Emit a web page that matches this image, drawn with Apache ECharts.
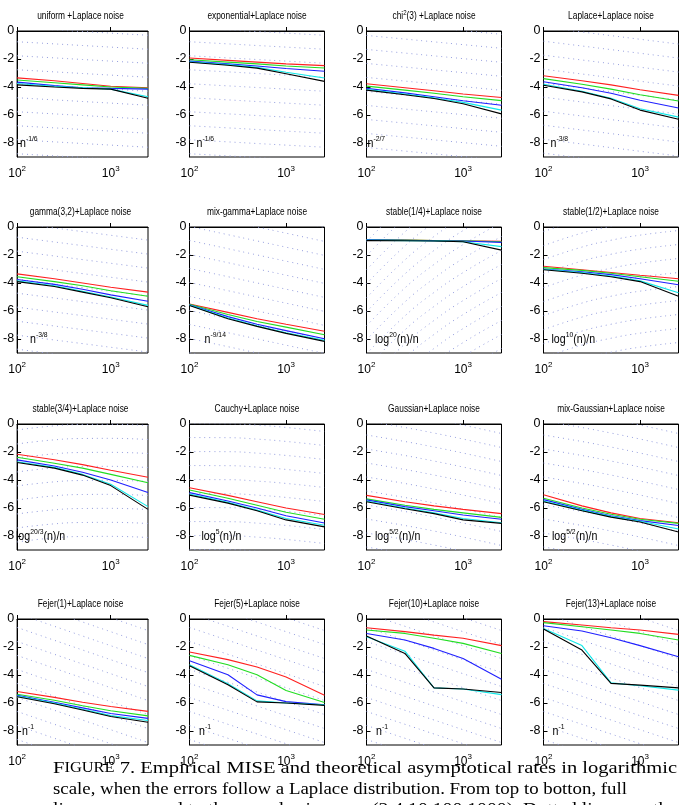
<!DOCTYPE html>
<html>
<head>
<meta charset="utf-8">
<script src="https://cdn.jsdelivr.net/npm/echarts@6/dist/echarts.min.js"></script>
<style>
html, body { margin: 0; padding: 0; background: #fff; }
#main { width: 680px; height: 805px; }
</style>
</head>
<body>
<div id="main"></div>
<script>
// sample sizes (x axis, log scale)
var sizes = [100, 250, 500, 1000, 2500];
var yTicks = [0, -2, -4, -6, -8];

var titles = [
  'uniform +Laplace noise', 'exponential+Laplace noise', 'chi{t|2}(3) +Laplace noise', 'Laplace+Laplace noise',
  'gamma(3,2)+Laplace noise', 'mix-gamma+Laplace noise', 'stable(1/4)+Laplace noise', 'stable(1/2)+Laplace noise',
  'stable(3/4)+Laplace noise', 'Cauchy+Laplace noise', 'Gaussian+Laplace noise', 'mix-Gaussian+Laplace noise',
  'Fejer(1)+Laplace noise', 'Fejer(5)+Laplace noise', 'Fejer(10)+Laplace noise', 'Fejer(13)+Laplace noise'
];

var rateLabels = [
  '{n|n}{s|-1/6}', '{n|n}{s|-1/6}', '{n|n}{s|-2/7}', '{n|n}{s|-3/8}',
  '{n|n}{s|-3/8}', '{n|n}{s|-9/14}', '{n|log}{s|20}{n|(n)/n}', '{n|log}{s|10}{n|(n)/n}',
  '{n|log}{s|20/3}{n|(n)/n}', '{n|log}{s|5}{n|(n)/n}', '{n|log}{s|5/2}{n|(n)/n}', '{n|log}{s|5/2}{n|(n)/n}',
  '{n|n}{s|-1}', '{n|n}{s|-1}', '{n|n}{s|-1}', '{n|n}{s|-1}'
];

// log MISE, one row per panel, values at the sample sizes above
var redLines = [
  [-3.35, -3.55, -3.75, -3.95, -4.05],
  [-1.93, -2.1, -2.22, -2.35, -2.47],
  [-3.77, -4.05, -4.27, -4.5, -4.75],
  [-3.2, -3.55, -3.85, -4.2, -4.6],
  [-3.35, -3.7, -4.0, -4.3, -4.65],
  [-5.5, -6.1, -6.55, -6.95, -7.45],
  [-0.9, -0.93, -0.96, -0.99, -1.02],
  [-2.8, -3.05, -3.25, -3.45, -3.7],
  [-2.16, -2.55, -2.9, -3.3, -3.8],
  [-4.55, -5.1, -5.55, -6.0, -6.47],
  [-5.1, -5.55, -5.85, -6.1, -6.4],
  [-5.06, -5.85, -6.35, -6.75, -7.05],
  [-5.18, -5.6, -5.95, -6.25, -6.6],
  [-2.36, -2.9, -3.43, -4.15, -5.44],
  [-0.62, -0.9, -1.15, -1.38, -1.9],
  [-0.19, -0.43, -0.62, -0.79, -1.1]
];
var greenLines = [
  [-3.5, -3.7, -3.85, -4.0, -4.1],
  [-2.05, -2.22, -2.35, -2.5, -2.64],
  [-3.94, -4.22, -4.45, -4.7, -4.97],
  [-3.4, -3.8, -4.15, -4.55, -5.0],
  [-3.55, -3.9, -4.2, -4.55, -4.95],
  [-5.52, -6.25, -6.75, -7.15, -7.7],
  [-0.9, -0.93, -0.96, -0.99, -1.05],
  [-2.9, -3.1, -3.3, -3.55, -3.88],
  [-2.37, -2.8, -3.15, -3.6, -4.2],
  [-4.72, -5.3, -5.8, -6.3, -6.8],
  [-5.35, -5.8, -6.1, -6.35, -6.67],
  [-5.3, -6.0, -6.45, -6.8, -7.1],
  [-5.37, -5.8, -6.2, -6.55, -6.92],
  [-2.6, -3.27, -3.98, -5.1, -5.97],
  [-0.79, -1.03, -1.38, -1.74, -2.46],
  [-0.26, -0.55, -0.79, -1.03, -1.5]
];
var blueLines = [
  [-3.65, -3.9, -4.05, -4.1, -4.15],
  [-2.15, -2.35, -2.5, -2.68, -2.87],
  [-4.1, -4.42, -4.7, -4.98, -5.3],
  [-3.62, -4.05, -4.45, -4.95, -5.5],
  [-3.75, -4.1, -4.45, -4.85, -5.3],
  [-5.55, -6.4, -6.95, -7.4, -7.98],
  [-0.92, -0.95, -0.98, -1.0, -1.1],
  [-3.0, -3.2, -3.4, -3.7, -4.12],
  [-2.56, -3.0, -3.45, -4.0, -4.9],
  [-4.9, -5.5, -6.0, -6.55, -7.07],
  [-5.42, -5.9, -6.2, -6.5, -6.8],
  [-5.4, -6.1, -6.55, -6.9, -7.25],
  [-5.45, -5.95, -6.35, -6.75, -7.1],
  [-2.98, -3.98, -5.42, -5.9, -6.13],
  [-1.03, -1.5, -2.1, -2.82, -4.3],
  [-0.48, -0.86, -1.34, -1.9, -2.7]
];
var cyanLines = [
  [-3.75, -3.95, -4.05, -4.15, -4.7],
  [-2.2, -2.4, -2.6, -2.95, -3.36],
  [-4.17, -4.5, -4.78, -5.1, -5.65],
  [-3.8, -4.3, -4.8, -5.55, -6.15],
  [-3.85, -4.2, -4.6, -5.0, -5.6],
  [-5.58, -6.5, -7.05, -7.55, -8.1],
  [-0.95, -0.97, -1.0, -1.05, -1.4],
  [-3.02, -3.25, -3.5, -3.85, -4.7],
  [-2.7, -3.1, -3.6, -4.3, -5.9],
  [-5.0, -5.6, -6.15, -6.75, -7.23],
  [-5.5, -6.0, -6.35, -6.75, -7.05],
  [-5.5, -6.15, -6.6, -6.95, -7.5],
  [-5.5, -6.0, -6.45, -6.9, -7.25],
  [-3.27, -4.63, -5.85, -6.0, -6.13],
  [-1.27, -2.3, -4.92, -5.0, -5.4],
  [-0.67, -1.9, -4.56, -4.77, -5.08]
];
var blackLines = [
  [-3.85, -4.0, -4.1, -4.15, -4.8],
  [-2.23, -2.45, -2.65, -3.05, -3.6],
  [-4.22, -4.55, -4.82, -5.2, -5.92],
  [-3.88, -4.35, -4.85, -5.65, -6.3],
  [-3.9, -4.25, -4.65, -5.05, -5.7],
  [-5.6, -6.55, -7.1, -7.6, -8.17],
  [-0.97, -0.98, -1.0, -1.05, -1.65],
  [-3.05, -3.3, -3.55, -3.9, -4.95],
  [-2.75, -3.15, -3.65, -4.4, -6.1],
  [-5.08, -5.65, -6.2, -6.85, -7.35],
  [-5.55, -6.05, -6.4, -6.85, -7.1],
  [-5.55, -6.2, -6.65, -7.0, -7.72],
  [-5.55, -6.05, -6.5, -6.97, -7.37],
  [-3.34, -4.7, -5.92, -6.0, -6.17],
  [-1.22, -2.46, -4.92, -5.0, -5.25],
  [-0.72, -2.22, -4.6, -4.72, -4.92]
];

// log of the theoretical rate at the sample sizes (dotted guide lines, shifted by whole units)
var rateCurves = [
  [-0.768, -0.920, -1.036, -1.151, -1.304],
  [-0.768, -0.920, -1.036, -1.151, -1.304],
  [-1.316, -1.577, -1.776, -1.974, -2.235],
  [-1.727, -2.071, -2.330, -2.590, -2.934],
  [-1.727, -2.071, -2.330, -2.590, -2.934],
  [-2.961, -3.550, -3.995, -4.441, -5.030],
  [25.939, 28.650, 30.323, 31.744, 33.320],
  [10.667, 11.565, 12.054, 12.418, 12.748],
  [5.576, 5.869, 5.964, 5.976, 5.891],
  [3.031, 3.022, 2.920, 2.755, 2.462],
  [-0.787, -1.250, -1.647, -2.076, -2.681],
  [-0.787, -1.250, -1.647, -2.076, -2.681],
  [-4.605, -5.521, -6.215, -6.908, -7.824],
  [-4.605, -5.521, -6.215, -6.908, -7.824],
  [-4.605, -5.521, -6.215, -6.908, -7.824],
  [-4.605, -5.521, -6.215, -6.908, -7.824]
];

var captionLines = [
  '{F|F}{sc|IGURE} 7. Empirical MISE and theoretical asymptotical rates in logarithmic',
  'scale, when the errors follow a Laplace distribution. From top to botton, full',
  'lines correspond to the sample sizes n = (2,4,10,100,1000). Dotted lines are the'
];

// layout
var colLeft = [13, 189.5, 366.5, 543.5];
var rowTop = [31, 227, 424, 619];
var plotW = 135, plotH = 126;
var labelOffset = [7, 7, 1, 7, 17, 15, 8.5, 8, 3, 12, 8.5, 8.5, 9, 9.5, 9.5, 9];
var sans = "'Liberation Sans', Arial, sans-serif";
var serif = "'Liberation Serif', 'DejaVu Serif', serif";
var colors = ['#ff2020', '#22dd22', '#2020ff', '#10e8e8', '#000000'];
var groups = [redLines, greenLines, blueLines, cyanLines, blackLines];

var grids = [], xAxes = [], yAxes = [], series = [], graphics = [];

function supLabel(v) {
  var p = Math.round(Math.log(v) / Math.LN10);
  if (Math.abs(Math.pow(10, p) - v) > 1e-6 * v) return '';
  return '{b|10}{s|' + p + '}';
}

for (var i = 0; i < 16; i++) {
  var r = Math.floor(i / 4), c = i % 4;
  grids.push({
    left: colLeft[c], top: rowTop[r], width: plotW, height: plotH,
    show: true, borderColor: '#000', borderWidth: 1, containLabel: false
  });
  xAxes.push({
    type: 'log', logBase: 10, gridIndex: i, min: 100, max: 2500,
    axisLine: { show: true, lineStyle: { color: '#000', width: 1 } },
    axisTick: { show: true, inside: true, length: 4, lineStyle: { color: '#000' } },
    splitLine: { show: false },
    axisLabel: {
      margin: 8, color: '#000', formatter: supLabel, showMaxLabel: false,
      rich: {
        b: { fontSize: 12, fontFamily: sans, color: '#000', verticalAlign: 'bottom', lineHeight: 15 },
        s: { fontSize: 8, fontFamily: sans, color: '#000', verticalAlign: 'top', lineHeight: 15 }
      }
    }
  });
  yAxes.push({
    type: 'value', gridIndex: i, min: -9, max: 0,
    axisLine: { show: true, lineStyle: { color: '#000', width: 1 } },
    axisTick: { show: true, inside: true, length: 4, customValues: yTicks, lineStyle: { color: '#000' } },
    splitLine: { show: false },
    axisLabel: { customValues: yTicks, margin: 3, color: '#000', fontSize: 12.5, fontFamily: sans }
  });

  // dotted rate lines
  var rc = rateCurves[i];
  var lo = Math.ceil(-9 - Math.max.apply(null, rc));
  var hi = Math.floor(-Math.min.apply(null, rc));
  for (var k = lo; k <= hi; k++) {
    series.push({
      type: 'line', xAxisIndex: i, yAxisIndex: i, symbol: 'none', smooth: true, silent: true, z: 1,
      lineStyle: { color: '#959ede', width: 1, type: [1, 4] },
      data: sizes.map(function (n, j) { return [n, rc[j] + k]; })
    });
  }
  for (var g = 0; g < 5; g++) {
    series.push({
      type: 'line', xAxisIndex: i, yAxisIndex: i, symbol: 'none', silent: true, z: 2 + g,
      lineStyle: { color: colors[g], width: 1.1 },
      data: sizes.map(function (n, j) { return [n, groups[g][i][j]]; })
    });
  }

  graphics.push({
    type: 'text', x: colLeft[c] + plotW / 2, y: rowTop[r] - 15, scaleX: 0.76, z: 10,
    style: {
      text: titles[i], fill: '#000', fontSize: 11, fontFamily: sans, align: 'center', verticalAlign: 'middle',
      rich: { t: { fontSize: 8, fontFamily: sans, verticalAlign: 'top', lineHeight: 14 } }
    }
  });
  graphics.push({
    type: 'text', x: colLeft[c] + labelOffset[i], y: rowTop[r] + 119, scaleX: 0.85, z: 10,
    style: {
      text: rateLabels[i], fill: '#000', align: 'left', verticalAlign: 'bottom',
      rich: {
        n: { fontSize: 12.5, fontFamily: sans, color: '#000', verticalAlign: 'bottom', lineHeight: 15 },
        s: { fontSize: 8, fontFamily: sans, color: '#000', verticalAlign: 'top', lineHeight: 15 }
      }
    }
  });
}

// caption, stretched to the justified line widths
var capWidths = [624, 574, 624];
var capBase = [774, 795.5, 815.5];
var ctx = document.createElement('canvas').getContext('2d');
function textW(t, size) { ctx.font = size + "px 'Liberation Serif'"; return ctx.measureText(t).width; }
for (var L = 0; L < captionLines.length; L++) {
  var w;
  if (L === 0) {
    w = textW('F', 17) + textW('IGURE', 13.6) + textW(' 7. Empirical MISE and theoretical asymptotical rates in logarithmic', 17);
  } else {
    w = textW(captionLines[L], 17);
  }
  graphics.push({
    type: 'text', x: 53, y: capBase[L] - 5.7, scaleX: capWidths[L] / w, z: 10,
    style: {
      text: captionLines[L], fill: '#000', fontSize: 17, fontFamily: serif, align: 'left', verticalAlign: 'middle',
      rich: {
        F: { fontSize: 17, fontFamily: serif },
        sc: { fontSize: 13.6, fontFamily: serif }
      }
    }
  });
}

var chart = echarts.init(document.getElementById('main'), null, { renderer: 'canvas' });
chart.setOption({
  animation: false,
  backgroundColor: '#fff',
  grid: grids,
  xAxis: xAxes,
  yAxis: yAxes,
  series: series,
  graphic: graphics
});
</script>
</body>
</html>
